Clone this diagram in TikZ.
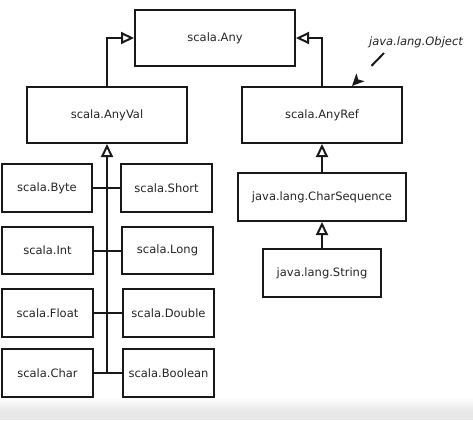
\documentclass[tikz,border=0pt]{standalone}
\usepackage{fontspec}
\setmainfont{DejaVu Sans}
\usetikzlibrary{arrows.meta}
\begin{document}
\begin{tikzpicture}[x=1pt,y=-1pt,
  cls/.style={draw=black!90, line width=2pt, fill=white, inner sep=0pt,
    font=\fontsize{11.5}{14}\selectfont, text=black!85},
  inh/.style={draw=black!90, line width=2pt, -{Triangle[open, length=13pt, width=12pt, line width=2pt]}},
  link/.style={draw=black!90, line width=2pt},
  note/.style={font=\fontsize{11.5}{14}\selectfont\itshape, text=black!85},
  noteline/.style={draw=black!90, line width=2pt, dash pattern=on 18pt off 40pt,
    -{Stealth[length=12pt, width=11pt, inset=3pt]}}]
\useasboundingbox (0,0) rectangle (473,420);
\fill[white] (0,0) rectangle (473,420);
\shade[top color=white, bottom color=black!9] (0,397) rectangle (473,411);
\fill[black!9] (0,411) rectangle (473,420);
% classes
\node[cls, minimum width=160pt, minimum height=56pt] (any) at (215,38) {scala.Any};
\node[cls, minimum width=160pt, minimum height=56pt] (anyval) at (107,115) {scala.AnyVal};
\node[cls, minimum width=160pt, minimum height=56pt] (anyref) at (322,115) {scala.AnyRef};
\node[cls, minimum width=90pt, minimum height=48pt] (byte) at (47,188) {scala.Byte};
\node[cls, minimum width=91pt, minimum height=48pt] (short) at (166.5,188) {scala.Short};
\node[cls, minimum width=91pt, minimum height=47pt] (int) at (47.5,250.5) {scala.Int};
\node[cls, minimum width=91pt, minimum height=47pt] (long) at (167.5,250.5) {scala.Long};
\node[cls, minimum width=91pt, minimum height=48pt] (float) at (47.5,313) {scala.Float};
\node[cls, minimum width=91pt, minimum height=48pt] (double) at (168.5,313) {scala.Double};
\node[cls, minimum width=91pt, minimum height=48pt] (char) at (47.5,373) {scala.Char};
\node[cls, minimum width=91pt, minimum height=48pt] (boolean) at (168.5,373) {scala.Boolean};
\node[cls, minimum width=168pt, minimum height=48pt] (charseq) at (322,197) {java.lang.CharSequence};
\node[cls, minimum width=118pt, minimum height=48pt] (string) at (322,273) {java.lang.String};
\node[note] (obj) at (416,42) {java.lang.Object};
% connectors
\draw[inh] (anyval.north) |- (any.west);
\draw[inh] (anyref.north) |- (any.east);
\coordinate (trunk) at (107,373);
\draw[inh] (trunk) -- (anyval.south);
\draw[link] (byte.east) -- (short.west);
\draw[link] (int.east) -- (long.west);
\draw[link] (float.east) -- (double.west);
\draw[link] (char.east) -- (boolean.west);
\draw[inh] (charseq.north) -- (anyref.south);
\draw[inh] (string.north) -- (charseq.south);
\coordinate (objfrom) at (384,53);
\coordinate (objto) at (352,86);
\draw[noteline] (objfrom) -- (objto);
\end{tikzpicture}
\end{document}
